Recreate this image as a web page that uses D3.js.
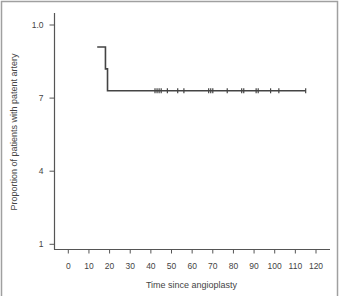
<!DOCTYPE html>
<html>
<head>
<meta charset="utf-8">
<script src="https://cdn.jsdelivr.net/npm/d3@7"></script>
<style>
  body { margin: 0; background: #fff; }
  text { font-family: "Liberation Sans", Arial, sans-serif; fill: #444; }
</style>
</head>
<body>
<svg width="342" height="296"></svg>
<script>
// Kaplan-Meier curve (time, proportion), drawn as step-after
var curveTimes = [14, 18, 19, 115];
var curveValues = [0.91, 0.82, 0.73, 0.73];

// censored observations, all at the last level
var censorTimes = [42, 43, 44, 45, 48, 53, 56, 68, 69, 70, 77, 84, 85, 91, 92, 98, 102, 115];
var censorValue = 0.73;

var xTicks = [0, 10, 20, 30, 40, 50, 60, 70, 80, 90, 100, 110, 120];
var yTicks = [1.0, 0.7, 0.4, 0.1];
var yTickLabels = ['1.0', '7', '4', '1'];

var svg = d3.select('svg');

// outer frame
svg.append('rect')
    .attr('x', 1.5).attr('y', 1.5)
    .attr('width', 336).attr('height', 320)
    .attr('fill', 'none')
    .attr('stroke', '#a0a0a0')
    .attr('stroke-width', 1.5);

var xScale = d3.scaleLinear().domain([0, 120]).range([68.3, 316]);
var yScale = d3.scaleLinear().domain([0.1, 1.0]).range([244.3, 25]);

// y axis
var yAxis = svg.append('g').attr('class', 'y axis')
    .attr('transform', 'translate(54.5,0)');
yAxis.append('line')
    .attr('x1', 0).attr('x2', 0)
    .attr('y1', 13).attr('y2', 249.5)
    .attr('stroke', '#555').attr('stroke-width', 1.2);
yAxis.selectAll('.tick')
    .data(yTicks)
    .enter()
    .append('line')
    .attr('x1', -5).attr('x2', 0)
    .attr('y1', function(d) { return yScale(d); })
    .attr('y2', function(d) { return yScale(d); })
    .attr('stroke', '#555').attr('stroke-width', 1);
yAxis.selectAll('text')
    .data(yTicks)
    .enter()
    .append('text')
    .attr('x', -11)
    .attr('y', function(d) { return yScale(d); })
    .attr('dy', '0.35em')
    .attr('text-anchor', 'end')
    .style('font-size', '8.5px')
    .text(function(d, i) { return yTickLabels[i]; });

// x axis
var xAxis = svg.append('g').attr('class', 'x axis')
    .attr('transform', 'translate(0,249.5)');
xAxis.append('line')
    .attr('x1', 54).attr('x2', 330)
    .attr('y1', 0).attr('y2', 0)
    .attr('stroke', '#555').attr('stroke-width', 1.2);
xAxis.selectAll('.tick')
    .data(xTicks)
    .enter()
    .append('line')
    .attr('x1', function(d) { return xScale(d); })
    .attr('x2', function(d) { return xScale(d); })
    .attr('y1', 0).attr('y2', 4)
    .attr('stroke', '#555').attr('stroke-width', 1);
xAxis.selectAll('text')
    .data(xTicks)
    .enter()
    .append('text')
    .attr('x', function(d) { return xScale(d); })
    .attr('y', 17)
    .attr('dy', '0.35em')
    .attr('text-anchor', 'middle')
    .style('font-size', '8.5px')
    .text(function(d) { return d; });

// axis titles
svg.append('text')
    .attr('x', 191.5).attr('y', 285)
    .attr('dy', '0.35em')
    .attr('text-anchor', 'middle')
    .style('font-size', '9px')
    .text('Time since angioplasty');

svg.append('text')
    .attr('transform', 'translate(14,132) rotate(-90)')
    .attr('dy', '0.35em')
    .attr('text-anchor', 'middle')
    .style('font-size', '9px')
    .text('Proportion of patients with patent artery');

// survival curve
var pts = curveTimes.map(function(t, i) { return [t, curveValues[i]]; });
var line = d3.line()
    .x(function(d) { return xScale(d[0]); })
    .y(function(d) { return yScale(d[1]); })
    .curve(d3.curveStepAfter);

svg.append('path')
    .datum(pts)
    .attr('d', line)
    .attr('fill', 'none')
    .attr('stroke', '#444')
    .attr('stroke-width', 1.6);

// censor ticks
svg.selectAll('.censor')
    .data(censorTimes)
    .enter()
    .append('line')
    .attr('class', 'censor')
    .attr('x1', function(d) { return xScale(d); })
    .attr('x2', function(d) { return xScale(d); })
    .attr('y1', function(d) { return yScale(censorValue) - 2.5; })
    .attr('y2', function(d) { return yScale(censorValue) + 2.5; })
    .attr('stroke', '#444')
    .attr('stroke-width', 1.2);
</script>
</body>
</html>
